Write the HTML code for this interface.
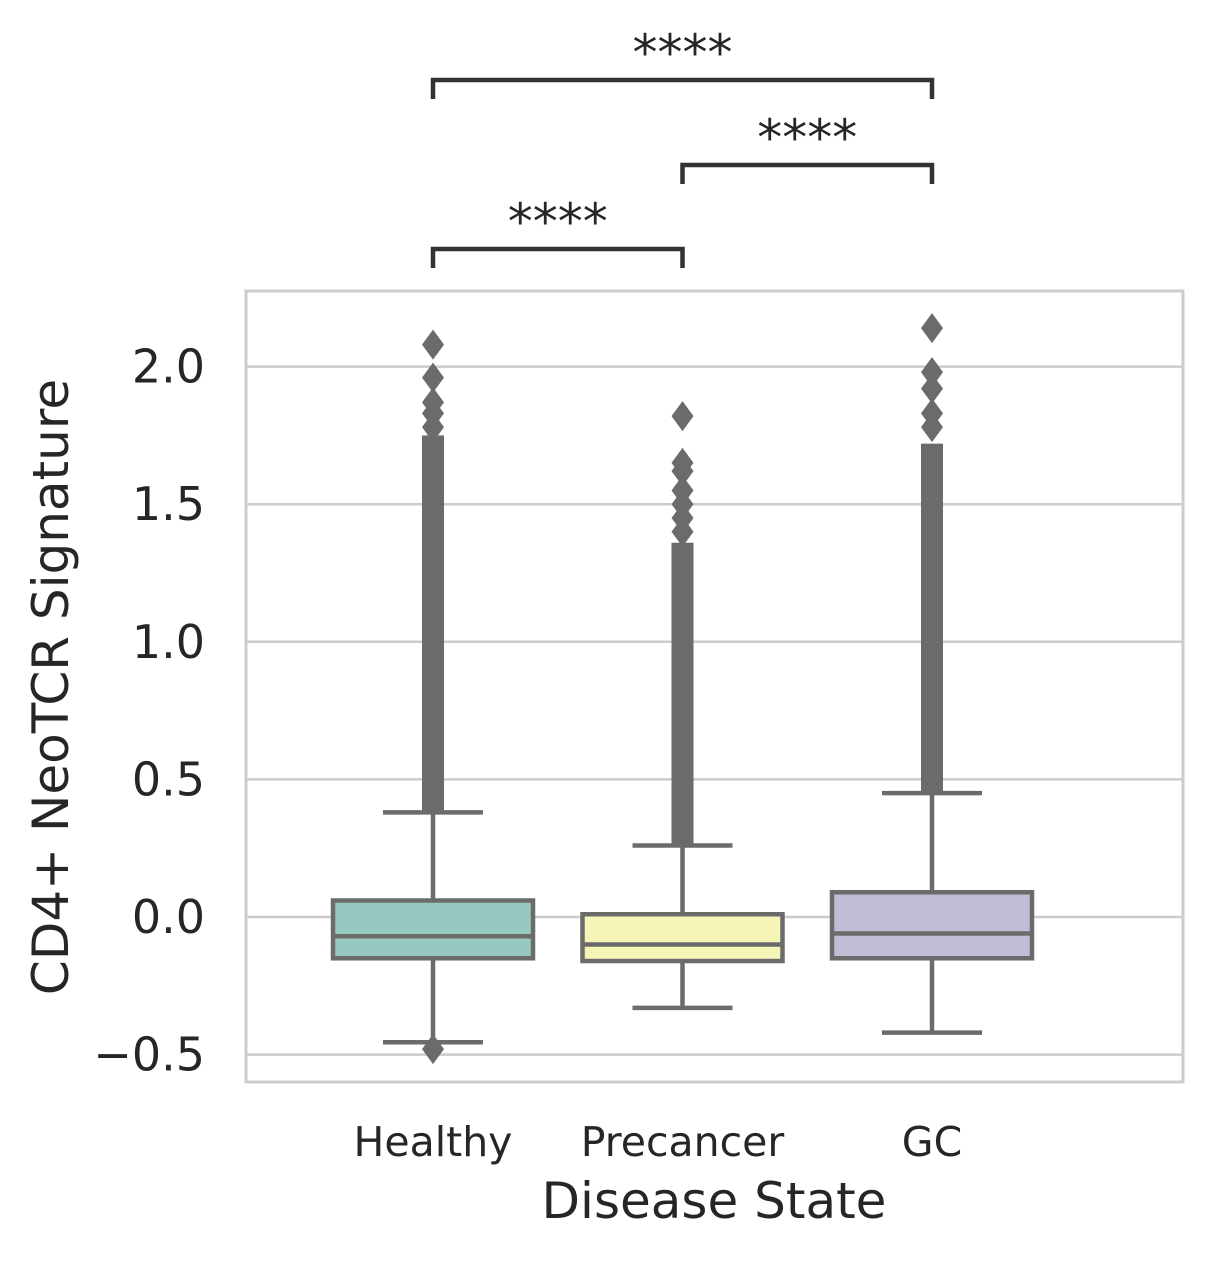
<!DOCTYPE html>
<html><head><meta charset="utf-8"><style>
body{margin:0;background:#fff}
svg text{font-family:"DejaVu Sans","Liberation Sans",sans-serif;fill:#262626}
</style></head><body>
<svg id="chart" width="1211" height="1259" xmlns="http://www.w3.org/2000/svg">
<rect x="246" y="291" width="937" height="791" fill="#fff" stroke="#cccccc" stroke-width="3"/>
<g id="grid"></g><g id="boxes"></g><g id="ann"></g>
<text x="714" y="1218" font-size="50" text-anchor="middle">Disease State</text>
<text transform="translate(68,687) rotate(-90)" font-size="50" text-anchor="middle">CD4+ NeoTCR Signature</text>
</svg>
<script>
const categories=["Healthy","Precancer","GC"];
const colors=["#98c9c1","#f6f5b8","#c0bcd6"];
const q1=[-0.15,-0.16,-0.15];
const medians=[-0.07,-0.10,-0.06];
const q3=[0.06,0.01,0.09];
const whiskLo=[-0.455,-0.33,-0.42];
const whiskHi=[0.38,0.26,0.45];
const denseTop=[1.75,1.36,1.72];
const outliers=[[1.78,1.83,1.87,1.96,2.08,-0.48],[1.40,1.45,1.50,1.55,1.62,1.65,1.82],[1.78,1.83,1.92,1.98,2.14]];
const yTicks=[-0.5,0,0.5,1.0,1.5,2.0];
const yTickLabels=["\u22120.5","0.0","0.5","1.0","1.5","2.0"];
const brackets=[[0,2,0],[1,2,1],[0,1,2]];
const bracketLabels=["****","****","****"];
const ns="http://www.w3.org/2000/svg";
const y=v=>917-v*275.2;
const x=i=>433+i*249.5;
function mk(t,a,p){const e=document.createElementNS(ns,t);for(const k in a)e.setAttribute(k,a[k]);p.appendChild(e);return e;}
const grid=document.getElementById('grid'),boxes=document.getElementById('boxes'),ann=document.getElementById('ann');
yTicks.forEach((v,i)=>{
 const l=mk('line',{x1:247,x2:1182,y1:y(v),y2:y(v),stroke:'#cccccc','stroke-width':2.5},grid);
 
 
 const t=mk('text',{x:205,y:y(v)+16,'font-size':46,'text-anchor':'end'},grid);t.textContent=yTickLabels[i];
 
 
});
const lc='#6b6b6b',hw=100;
categories.forEach((c,i)=>{
 const cx=x(i);
 const g=mk('g',{},boxes);
 
 
 const d=mk('rect',{x:cx-11,y:y(denseTop[i]),width:22,height:y(whiskHi[i])-y(denseTop[i]),fill:lc},g);
 
 
 outliers[i].forEach(v=>{const p=mk('path',{d:`M${cx} ${y(v)-15}L${cx+11} ${y(v)}L${cx} ${y(v)+15}L${cx-11} ${y(v)}Z`,fill:lc},g);
  
  });
 mk('line',{x1:cx,x2:cx,y1:y(whiskHi[i]),y2:y(q3[i]),stroke:lc,'stroke-width':4.5},g);
 mk('line',{x1:cx,x2:cx,y1:y(q1[i]),y2:y(whiskLo[i]),stroke:lc,'stroke-width':4.5},g);
 mk('line',{x1:cx-50,x2:cx+50,y1:y(whiskHi[i]),y2:y(whiskHi[i]),stroke:lc,'stroke-width':4.5},g);
 mk('line',{x1:cx-50,x2:cx+50,y1:y(whiskLo[i]),y2:y(whiskLo[i]),stroke:lc,'stroke-width':4.5},g);
 mk('rect',{x:cx-hw,y:y(q3[i]),width:2*hw,height:y(q1[i])-y(q3[i]),fill:colors[i],stroke:lc,'stroke-width':4.5},g);
 mk('line',{x1:cx-hw,x2:cx+hw,y1:y(medians[i]),y2:y(medians[i]),stroke:lc,'stroke-width':4.5},g);
 const t=mk('text',{x:cx,y:1156,'font-size':41,'text-anchor':'middle'},boxes);t.textContent=c;
 
 
});
const bracketY=[80,165,249];
brackets.forEach((b,k)=>{
 const by=bracketY[b[2]],a=x(b[0]),e=x(b[1]);
 const p=mk('path',{d:`M${a} ${by+19}V${by}H${e}V${by+19}`,fill:'none',stroke:'#333','stroke-width':4.5},ann);
 
 
 const t=mk('text',{x:(a+e)/2,y:by-10,'font-size':50,'text-anchor':'middle'},ann);t.textContent=bracketLabels[k];
 
 
});
</script>
</body></html>
